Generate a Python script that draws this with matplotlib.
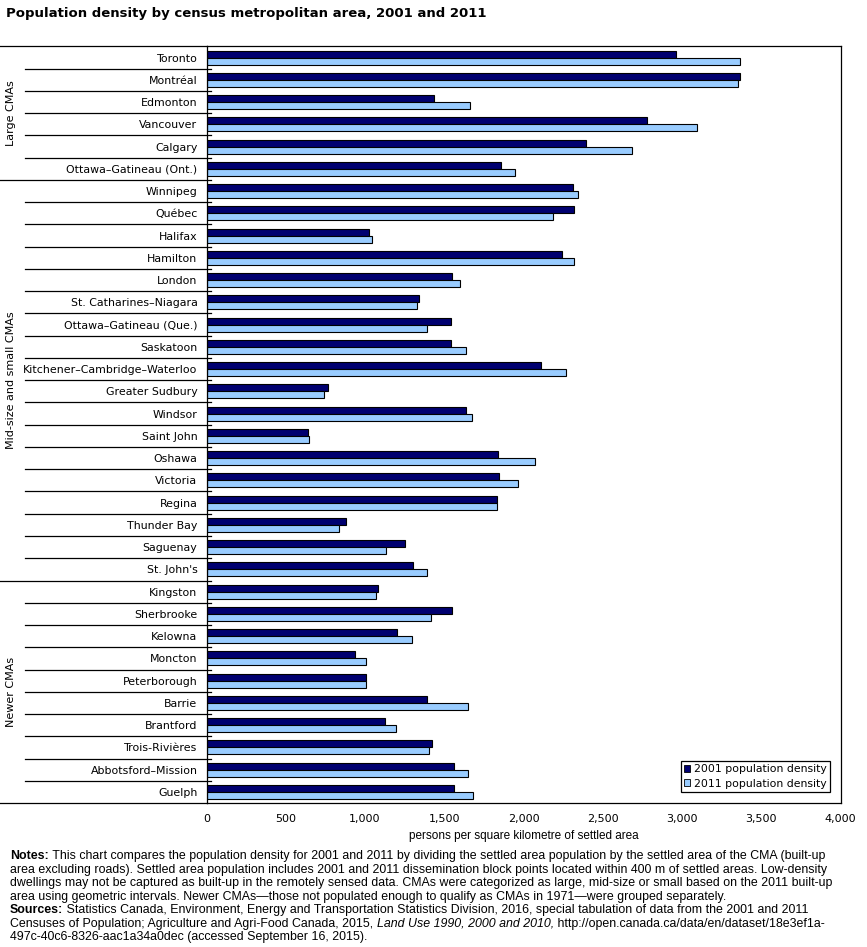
import matplotlib
matplotlib.use('Agg')
import matplotlib.pyplot as plt
from matplotlib.patches import Patch
import numpy as np

# data
cities = ['Toronto', 'Montréal', 'Edmonton', 'Vancouver', 'Calgary', 'Ottawa–Gatineau (Ont.)',
          'Winnipeg', 'Québec', 'Halifax', 'Hamilton', 'London', 'St. Catharines–Niagara',
          'Ottawa–Gatineau (Que.)', 'Saskatoon', 'Kitchener–Cambridge–Waterloo', 'Greater Sudbury',
          'Windsor', 'Saint John', 'Oshawa', 'Victoria', 'Regina', 'Thunder Bay', 'Saguenay',
          "St. John's", 'Kingston', 'Sherbrooke', 'Kelowna', 'Moncton', 'Peterborough', 'Barrie',
          'Brantford', 'Trois-Rivières', 'Abbotsford–Mission', 'Guelph']
density_2001 = [2960, 3364, 1437, 2777, 2396, 1856,
                2310, 2317, 1023, 2241, 1547, 1339,
                1541, 1541, 2108, 765,
                1635, 638, 1837, 1843, 1831, 878, 1250,
                1301, 1080, 1547, 1200, 935, 1008, 1389,
                1124, 1421, 1560, 1560]
density_2011 = [3368, 3355, 1664, 3096, 2686, 1948,
                2346, 2188, 1046, 2320, 1601, 1330,
                1393, 1639, 2270, 743,
                1677, 649, 2074, 1963, 1835, 838, 1134,
                1393, 1071, 1418, 1295, 1008, 1006, 1648,
                1194, 1406, 1652, 1683]
group_names = ['Large CMAs', 'Mid-size and small CMAs', 'Newer CMAs']
group_sizes = [6, 18, 10]
x_ticks = [0, 500, 1000, 1500, 2000, 2500, 3000, 3500, 4000]
series_labels = ['2001 population density', '2011 population density']

DARK = '#000070'
LIGHT = '#99CCFF'

W, H = 867, 947
fig = plt.figure(figsize=(W / 100, H / 100), dpi=100)


def fx(px):
    return px / W


def fy(py):
    return 1 - py / H


ax_l, ax_r, ax_t, ax_b = 206.5, 840.5, 46.5, 803
ax = fig.add_axes([fx(ax_l), fy(ax_b), fx(ax_r) - fx(ax_l), fy(ax_t) - fy(ax_b)])


def ax_x(px):
    # figure pixel -> axes x fraction
    return (px - ax_l) / (ax_r - ax_l)


n = len(cities)
y = np.arange(n)
ax.barh(y - 0.155, density_2001, height=0.31, color=DARK, edgecolor='black', linewidth=0.8)
ax.barh(y + 0.155, density_2011, height=0.31, color=LIGHT, edgecolor='black', linewidth=0.8)

ax.set_ylim(n - 0.5, -0.5)
ax.set_xlim(0, 4000)
ax.set_yticks(y)
ax.set_yticklabels(cities, fontsize=7.9, family='DejaVu Sans')
ax.set_xticks(x_ticks)
ax.set_xticklabels([f'{v:,}' for v in x_ticks], fontsize=8, family='DejaVu Sans')
ax.tick_params(axis='y', length=0, pad=6.5)
ax.tick_params(axis='x', length=0, pad=8)
for s in ax.spines.values():
    s.set_linewidth(0.9)
    s.set_color('black')

ax.set_xlabel('persons per square kilometre of settled area', fontsize=8.5,
              family='Liberation Sans', labelpad=4)

# row separators in the label area
tr = ax.get_yaxis_transform()
starts = np.cumsum([0] + group_sizes[:-1])
for b in range(n - 1):
    x0 = ax_x(0) if (b + 1) in starts else ax_x(25)
    ax.plot([x0, ax_x(211)], [b + 0.5, b + 0.5], color='black', lw=0.9,
            transform=tr, clip_on=False)
for yy in (-0.5, n - 0.5):
    ax.plot([ax_x(0), 0], [yy, yy], color='black', lw=0.9, transform=tr, clip_on=False)

# group labels
for name, st, sz in zip(group_names, starts, group_sizes):
    ax.text(ax_x(11), st + sz / 2 - 0.5, name, rotation=90, ha='center', va='center',
            fontsize=8, family='DejaVu Sans', transform=tr)

handles = [Patch(facecolor=DARK, edgecolor='black', lw=0.6),
           Patch(facecolor=LIGHT, edgecolor='black', lw=0.6)]
leg = ax.legend(handles, series_labels, loc='lower right',
                bbox_to_anchor=(fx(829.5), fy(792)), bbox_transform=fig.transFigure,
                frameon=True, fancybox=False, edgecolor='black', framealpha=1,
                prop={'family': 'DejaVu Sans', 'size': 7.8},
                handlelength=0.6, handleheight=0.6, handletextpad=0.3,
                borderpad=0.3, labelspacing=0.4, borderaxespad=0)
leg.get_frame().set_linewidth(0.9)

fig.text(fx(6.5), fy(13), 'Population density by census metropolitan area, 2001 and 2011',
         fontsize=9.5, weight='bold', family='DejaVu Sans', va='center', ha='left')

# notes
note_lines = [
    [('Notes:', 'bold'), (' This chart compares the population density for 2001 and 2011 by dividing the settled area population by the settled area of the CMA (built-up', 'normal')],
    [('area excluding roads). Settled area population includes 2001 and 2011 dissemination block points located within 400 m of settled areas. Low-density', 'normal')],
    [('dwellings may not be captured as built-up in the remotely sensed data. CMAs were categorized as large, mid-size or small based on the 2011 built-up', 'normal')],
    [('area using geometric intervals. Newer CMAs—those not populated enough to qualify as CMAs in 1971—were grouped separately.', 'normal')],
    [('Sources:', 'bold'), (' Statistics Canada, Environment, Energy and Transportation Statistics Division, 2016, special tabulation of data from the 2001 and 2011', 'normal')],
    [('Censuses of Population; Agriculture and Agri-Food Canada, 2015, ', 'normal'), ('Land Use 1990, 2000 and 2010,', 'italic'), (' http://open.canada.ca/data/en/dataset/18e3ef1a-', 'normal')],
    [('497c-40c6-8326-aac1a34a0dec (accessed September 16, 2015).', 'normal')],
]
NOTE_FS = 8.95
for i, parts in enumerate(note_lines):
    yb = 862 + i * 13.5
    prev = None
    for txt, style in parts:
        kw = dict(fontsize=NOTE_FS, family='Liberation Sans', va='bottom', ha='left')
        if style == 'bold':
            kw['weight'] = 'bold'
        if style == 'italic':
            kw['style'] = 'italic'
        if prev is None:
            prev = fig.text(fx(10), fy(yb), txt, **kw)
        else:
            prev = fig.add_artist(plt.Annotation(txt, xy=(1, 0), xycoords=prev, **kw))

fig.savefig('out.png', dpi=100)
